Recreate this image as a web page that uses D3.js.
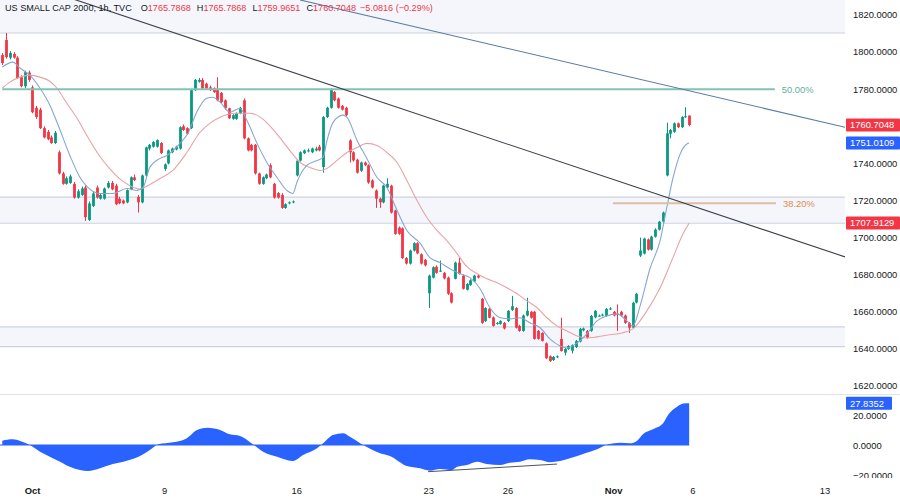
<!DOCTYPE html>
<html><head><meta charset="utf-8">
<script src="https://cdn.jsdelivr.net/npm/d3@7"></script>
<style>
html,body{margin:0;padding:0;background:#fff;}
svg{display:block;font-family:"Liberation Sans",Arial,sans-serif;}
</style></head>
<body>
<svg id="c" width="900" height="498"></svg>
<script>
// ---------- DATA ----------
const title = "US SMALL CAP 2000, 1h, TVC";
const ohlcHeader = {o:"1765.7868", h:"1765.7868", l:"1759.9651", c:"1760.7048", chg:"\u22125.0816 (\u22120.29%)"};
// hourly bars, index 0 = last bar of Sep 28, 7 bars per trading day
const opens = [1798.4,1806.5,1797,1799,1797,1786.5,1781.6,1789,1781,1770,1769,1759,1757,1754,1751,1746,1734.6,1729,1729.5,1729,1721.6,1723,1727,1709.5,1717,1727,1721,1721,1727,1729.5,1728,1721,1720,1719,1726,1732.5,1722,1719,1733.5,1748,1749,1749,1751,1737,1740,1746,1747.5,1748,1760,1759,1759,1779.5,1784,1785,1783,1781,1780.5,1779.5,1778,1774,1769.7,1764,1764,1767,1774,1753.5,1750,1750,1734.6,1729,1732,1739,1729,1724,1723,1716,1718.5,1719,1733.5,1741.5,1745.5,1747,1746,1747,1749,1738,1765,1770,1778.5,1775,1771,1770,1752.4,1746,1742,1736,1740.5,1739,1730.8,1725.4,1721,1719,1727,1728,1714.6,1705.4,1705,1689,1686,1693,1697,1691,1688,1670,1678.4,1684.3,1682,1681,1678.4,1670,1677.8,1686.5,1679.5,1671.9,1674.4,1676.4,1679.5,1667,1655,1661.6,1657,1653.5,1653.5,1654,1655,1661,1662,1652.4,1649.7,1658,1660,1660,1649.7,1648.6,1643,1636,1634,1635.5,1645.4,1638,1640,1639,1641,1644,1650,1649.7,1649.7,1657,1658,1658,1657.8,1661.6,1660,1659,1660,1658,1654,1651.4,1665,1690.3,1691.4,1699,1693.5,1700.5,1704.3,1708.6,1733.5,1756,1757,1761.6,1759.5,1765,1765.7868];
const highs = [1799.5,1810.3,1800.5,1800,1797.8,1787.5,1790,1790,1782,1771,1770,1760,1758,1755,1757.5,1747,1735.5,1733,1734,1730,1726,1727.5,1728,1719.5,1724.5,1728,1723.5,1727,1730.5,1730.5,1729,1722,1720.5,1726,1733,1734,1723,1734,1749,1750.5,1752,1753,1751.5,1740,1747.5,1748.5,1749.5,1760,1761,1759.5,1780,1785.5,1786,1786,1783.5,1782,1781,1786.5,1778.5,1774.5,1770,1766.5,1767.5,1770.5,1775,1754,1750.5,1750.5,1735,1733,1734.5,1740,1729.5,1724.5,1724,1718.5,1719.5,1720,1742,1746.5,1747.5,1748,1748.5,1749,1750,1765.5,1770.5,1780.5,1779,1775.5,1771.5,1770.5,1753,1746.5,1742.5,1741,1741,1739.5,1731.5,1726,1721.5,1728.5,1732,1728.5,1715,1706,1705.5,1689.5,1693.5,1697.5,1697.5,1691.5,1688.5,1680,1684.5,1685,1687.6,1681.5,1679,1670.5,1687,1689,1680,1675.5,1677.5,1680,1680,1667.5,1662.5,1662,1657.5,1654.5,1655.5,1654.5,1661,1668.6,1662.5,1653,1658.5,1667.6,1660.5,1660.5,1650.2,1649,1643.5,1636.5,1636.2,1636.5,1656.8,1640.5,1642,1642.5,1644.8,1651.3,1651.5,1650.2,1658.3,1661,1658.5,1659,1662.1,1662.5,1660.5,1664,1660.5,1658.5,1654.5,1665.4,1670.2,1700,1700,1699.5,1701,1705,1709,1714,1762,1758.5,1762.1,1762,1765.5,1770.3,1765.7868];
const lows = [1793,1796.5,1796,1796.5,1785.5,1781,1780.5,1784,1767,1764,1758.5,1753.5,1752.5,1750.5,1750.5,1734,1728.5,1728.5,1729,1721,1721,1722.5,1709,1709,1716.5,1721,1720.5,1720.5,1726.5,1725.5,1717.5,1718,1718,1718.5,1725.5,1730.5,1713.5,1718.5,1733,1747,1748.5,1748.5,1745,1736,1739.5,1745.5,1747,1747.5,1757.5,1755.5,1758.5,1779,1783.5,1780,1780,1779,1778,1773.5,1772.5,1769,1764,1763.5,1763.5,1766.5,1753,1746.5,1746.5,1734,1728.5,1728.5,1731.5,1732,1721,1721,1715.5,1715.5,1718,1718.5,1733,1741,1745,1746,1745.5,1746.5,1746.5,1735,1764.5,1769.5,1773.5,1769.5,1768.5,1765.5,1740.5,1741,1734.5,1735.5,1738.5,1729,1726.5,1716,1716,1718.5,1726.5,1713,1701.5,1701.5,1688.5,1685.5,1685.5,1692.5,1691,1685.5,1684.5,1662,1678,1680.5,1681.5,1677.5,1669,1664.5,1677.5,1680,1672,1671.5,1674,1676,1678,1653.5,1654.5,1656.5,1652,1653,1653,1650.5,1654.5,1660.5,1651,1649.2,1649.2,1657.5,1656.3,1645,1645,1644,1634.5,1633,1633.5,1635,1638.5,1636.5,1639.5,1637.5,1640.5,1643.5,1649.5,1645.5,1649.2,1656.5,1657.5,1657.5,1657.3,1661,1657.5,1649.7,1657.5,1653.5,1648.6,1650.9,1664.5,1689.5,1690.9,1693,1693,1700,1703.8,1708.1,1733,1753.5,1756.5,1759,1759,1764.5,1759.9651];
const closes = [1794.1,1797.3,1799.5,1797,1786,1781.6,1789.2,1785,1767.6,1765,1759,1754,1753,1751,1756.5,1734.6,1729,1732,1733,1721.6,1725,1726.5,1711,1718.4,1723.8,1721.6,1723,1726.5,1729.5,1726,1718,1718.5,1718.5,1725.6,1732.5,1731,1719,1733.5,1748.6,1750,1751.5,1752.5,1745.6,1739.5,1747,1748,1749,1759.5,1758,1756,1779.5,1785,1785,1780.5,1780.5,1779.5,1778.4,1774,1773,1769.7,1764.3,1766,1767,1770,1753.5,1747,1747,1734.6,1729,1732.5,1734,1732.5,1721.6,1721.6,1716,1718,1719,1719.5,1741.5,1746,1747,1747,1748,1748,1747,1765,1770,1779.5,1774,1770,1769,1766,1746,1741.6,1735,1740.5,1739,1729.7,1727,1721,1719,1728,1729,1713.5,1702,1702,1689,1686,1693,1697,1691.5,1686,1685,1679.5,1684,1681,1682.2,1678,1669.7,1665,1686.5,1680.5,1672.4,1675,1677,1679.5,1678.5,1654,1662,1656.8,1652.4,1654,1655,1651,1660.5,1663,1651.4,1649.7,1658,1660.5,1656.8,1645.4,1645.4,1644.3,1635,1633.5,1635.7,1636,1638.9,1640,1641.6,1642,1644.3,1650.8,1651,1646,1657.8,1660.5,1658,1658.5,1661.6,1661.8,1658,1658.5,1658,1654,1651.4,1664.9,1669.7,1693,1699.5,1693.5,1700.5,1704.3,1708.6,1713.5,1756.2,1758,1761.6,1759.5,1765,1765.4,1760.7048];
// moving averages: [bar index, price]
const fastMA = [[0,1792],[2.8,1794.6],[4.7,1791.4],[7.3,1787.6],[10,1780.5],[12.6,1771.4],[14.5,1762.2],[17.9,1744.3],[20.6,1732.4],[22.4,1727.6],[25.9,1723.8],[29.3,1723.8],[33,1726.5],[35.7,1725.4],[37.3,1727],[39.1,1738],[41.8,1742.7],[43.6,1744.3],[47.1,1750.8],[49.2,1756.2],[51.6,1768],[54.2,1775.1],[55.8,1775.7],[57.7,1773],[60.3,1767.6],[63,1769.7],[64.8,1763.2],[67.5,1750.8],[70.1,1740.5],[72.8,1732.4],[75.4,1725.4],[77,1723.8],[78.1,1730],[80.7,1738.9],[83.4,1741.6],[85,1743.2],[86,1752],[87.6,1762],[90.3,1766],[91.3,1764.9],[94,1752.4],[96.6,1742.7],[99.3,1732.4],[101.9,1727],[104.6,1714.6],[107.2,1703.8],[110.7,1697],[113.3,1689.2],[116,1686.5],[118.6,1683.2],[121.3,1680.5],[123.9,1678.4],[126.6,1672.4],[129.2,1662.2],[131.9,1656.8],[134.5,1656.2],[137.2,1656.8],[139.8,1654.1],[142.5,1651.4],[145.1,1645.4],[147.8,1641.6],[149.6,1640.5],[152.3,1643.2],[154.9,1648.1],[157.6,1655.1],[160.2,1657.8],[162.9,1658.9],[165.5,1655.1],[167.1,1652.4],[169,1663.2],[171.6,1683.2],[174.3,1698.4],[176.1,1716.5],[177.7,1732],[179.6,1745],[181.7,1750.8],[182,1751.0109]];
const slowMA = [[0,1780.5],[2,1783.8],[4.7,1786.5],[7.3,1787.6],[10,1786.5],[12.6,1784.3],[14.5,1780.5],[17.1,1772.4],[19.8,1764.3],[22.4,1755],[25.1,1746],[28.5,1737],[31.2,1731.5],[33.8,1728],[36.5,1726.2],[39.1,1728.6],[41.8,1731.9],[45.2,1736.2],[48.9,1745.9],[52.4,1756.8],[55,1761.6],[57.7,1764.9],[61.7,1767],[65.6,1767],[68.8,1764.3],[71.5,1758.9],[74.1,1752.4],[76.8,1745.4],[78.9,1740.5],[81.5,1737.8],[84.2,1736.2],[86,1737.3],[88.7,1741.6],[91.3,1745.9],[94,1748.6],[96.6,1750.8],[99.3,1749.7],[101.9,1745.9],[104.6,1740.5],[107.2,1730.8],[109.9,1720],[112.5,1710.8],[115.2,1703.8],[117.8,1698.4],[120.5,1691.4],[123.1,1684.3],[125.8,1680.5],[128.4,1677.8],[131.1,1675.7],[133.7,1673],[136.4,1669.7],[139,1665.9],[141.7,1662.2],[144.3,1656.8],[147,1652.4],[149.6,1649.7],[152.3,1647],[154.9,1645.9],[157.6,1646.5],[161,1647.6],[164.2,1648.6],[167.1,1650.8],[170.8,1660.5],[174.3,1673],[177.7,1689.2],[180.4,1702.2],[182,1707.9129]];
// oscillator: [bar index, value]
const osc = [[0,2.9],[2.8,3.8],[4.7,2.7],[7.3,0],[10,-4.5],[12.6,-7.8],[15.3,-11.1],[17.9,-14.5],[20.6,-16.7],[22.7,-17.3],[25.9,-15.5],[29.3,-12.7],[33,-10.5],[36.5,-7.3],[39.1,-3.3],[41.3,0.5],[45.2,1.8],[48.9,4.5],[51.6,10],[54.5,11.5],[57.7,10],[60.3,7.1],[63,6],[66.4,0.5],[69.1,-4.5],[72.8,-7.8],[75.4,-10],[77,-10.7],[79.7,-6.7],[83.4,-2.2],[85,1.1],[87.6,6.7],[90.3,7.8],[92.1,5.5],[95.6,0],[100.1,-5.5],[102.7,-7.3],[107.2,-14],[110.7,-15.5],[113.3,-17.1],[116,-16],[119.2,-16.7],[120.5,-14.5],[123.1,-13.3],[125.8,-11.1],[128.4,-12.7],[131.9,-13.3],[134.5,-11.8],[137.2,-11.1],[139.8,-9.5],[142.5,-10],[145.1,-11.5],[147.8,-10.7],[150.4,-8.9],[153.9,-6],[157.6,-2.9],[160.5,0.5],[163.7,1.5],[166.3,1.1],[168.2,2.9],[169.8,7.3],[172.4,10.5],[175.1,14.5],[176.4,20],[178.8,25.5],[180.4,27.6],[182,27.8352]];
const oscDivergence = [[112.8,-17.8],[147,-12.7]];
// drawings
const blackTrend = [[16,1830.5],[223.3,1689.6]];
const blueTrend = [[78.9,1828.1],[223.3,1759.5]];
const zones = [[1810.3,1850],[1707.7,1721.8],[1641.2,1651.9]];
const fibLevels = [{label:"50.00%", price:1780, from:0, to:204.7, color:"#82c3b3", text:"#5fb09d"},
                   {label:"38.20%", price:1718.5, from:161.8, to:205, color:"#dcbfa2", text:"#e08a44"}];
// axes
const priceTicks = [1620,1640,1660,1680,1700,1720,1740,1760,1780,1800,1820];
const oscTicks = [20,0,-20];
const timeTickIdx = [8,43,78,113,134,162,183,218];
const timeTickLabels = ["Oct","9","16","23","26","Nov","6","13"];
const lastPrice = 1760.7048, fastLast = 1751.0109, slowLast = 1707.9129, oscLast = 27.8352;

// ---------- DRAW ----------
const svg = d3.select("#c");
const W = 900, plotR = 845;
const x = d3.scaleLinear().domain([0,218]).range([2.3, 2.3+218*3.774]);
const y = d3.scaleLinear().domain([1620,1820]).range([386,15]);
const yo = d3.scaleLinear().domain([-20,20]).range([475,415]);
const UP="#089981", DN="#f23645", FS="9.4px";
const fmt = d3.format(".4f");
const minus = s => s.replace("-","\u2212");

const defs = svg.append("defs");
defs.append("clipPath").attr("id","mainClip").append("rect").attr("x",0).attr("y",0).attr("width",plotR).attr("height",394);
defs.append("clipPath").attr("id","oscClip").append("rect").attr("x",0).attr("y",395).attr("width",plotR).attr("height",86);
defs.append("clipPath").attr("id","oaxClip").append("rect").attr("x",845).attr("y",395).attr("width",55).attr("height",83);

const main = svg.append("g").attr("clip-path","url(#mainClip)");

// zones
zones.forEach(z=>{
  const y1=y(z[1]), y0=y(z[0]);
  main.append("rect").attr("x",0).attr("width",plotR).attr("y",y1).attr("height",y0-y1).attr("fill","#f4f6fc");
  [y0,y1].forEach(v=>main.append("line").attr("x1",0).attr("x2",plotR).attr("y1",v).attr("y2",v).attr("stroke","#ccd3e0").attr("stroke-width",1.1));
});

// candles
const idx = d3.range(opens.length);
const cg = main.append("g");
cg.selectAll("line.w").data(idx).join("line")
  .attr("x1",i=>Math.round(x(i))+0.5).attr("x2",i=>Math.round(x(i))+0.5)
  .attr("y1",i=>y(highs[i])).attr("y2",i=>y(lows[i]))
  .attr("stroke",i=>closes[i]>=opens[i]?UP:DN).attr("stroke-width",1);
cg.selectAll("rect.b").data(idx).join("rect")
  .attr("x",i=>Math.round(x(i))+0.5-1.4).attr("width",2.8)
  .attr("y",i=>y(Math.max(opens[i],closes[i])))
  .attr("height",i=>Math.max(1,Math.abs(y(opens[i])-y(closes[i]))))
  .attr("fill",i=>closes[i]>=opens[i]?UP:DN);

// MAs
const ln = d3.line().x(d=>x(d[0])).y(d=>y(d[1])).curve(d3.curveMonotoneX);
main.append("path").attr("d",ln(slowMA)).attr("fill","none").attr("stroke","#e8a3a6").attr("stroke-width",1.1);
main.append("path").attr("d",ln(fastMA)).attr("fill","none").attr("stroke","#86a6d2").attr("stroke-width",1.1);

// fib levels
fibLevels.forEach(f=>{
  main.append("line").attr("x1",x(f.from)).attr("x2",x(f.to)).attr("y1",y(f.price)).attr("y2",y(f.price))
    .attr("stroke",f.color).attr("stroke-width",2);
  main.append("text").attr("x",x(f.to)+7).attr("y",y(f.price)+3.3).attr("fill",f.text)
    .attr("font-size",FS).text(f.label);
});

// trend lines
const tl = d3.line().x(d=>x(d[0])).y(d=>y(d[1]));
main.append("path").attr("d",tl(blackTrend)).attr("stroke","#3d414c").attr("stroke-width",1.1).attr("fill","none");
main.append("path").attr("d",tl(blueTrend)).attr("stroke","#5b7ba3").attr("stroke-width",1.1).attr("fill","none");

// oscillator panel
const og = svg.append("g").attr("clip-path","url(#oscClip)");
const area = d3.area().x(d=>x(d[0])).y0(yo(0)).y1(d=>yo(d[1])).curve(d3.curveMonotoneX);
og.append("path").attr("d",area(osc)).attr("fill","#2962ff");
og.append("line").attr("x1",x(0)-3).attr("x2",x(182)).attr("y1",yo(0)).attr("y2",yo(0)).attr("stroke","#2962ff").attr("stroke-width",1.2);
og.append("path").attr("d",d3.line().x(d=>x(d[0])).y(d=>yo(d[1]))(oscDivergence)).attr("stroke","#50535e").attr("stroke-width",1).attr("fill","none");

// separators
svg.append("line").attr("x1",0).attr("x2",W).attr("y1",394.5).attr("y2",394.5).attr("stroke","#e0e3eb");

// tags (price labels) on the scale
const tags = [{v:lastPrice, yy:y(lastPrice), c:DN, w:54},
              {v:fastLast, yy:y(fastLast), c:"#2962ff", w:54},
              {v:slowLast, yy:y(slowLast), c:DN, w:54}];
const oscTag = {v:oscLast, yy:yo(oscLast), c:"#2962ff", w:46};

// price axis (labels hidden where a tag covers them)
const ax = svg.append("g").attr("font-size",FS).attr("fill","#131722");
priceTicks.filter(v=>tags.every(t=>Math.abs(t.yy-y(v))>9))
  .forEach(v=>ax.append("text").attr("x",853).attr("y",y(v)+3.3).text(fmt(v)));
const oax = svg.append("g").attr("font-size",FS).attr("fill","#131722").attr("clip-path","url(#oaxClip)");
oscTicks.forEach(v=>oax.append("text").attr("x",853).attr("y",yo(v)+3.6).text(minus(fmt(v))));

function tag(t){
  svg.append("rect").attr("x",846).attr("y",t.yy-6.5).attr("width",t.w).attr("height",13).attr("fill",t.c).attr("rx",1);
  svg.append("text").attr("x",850).attr("y",t.yy+3.3).attr("fill","#fff").attr("font-size",FS).text(fmt(t.v));
}
tags.forEach(tag);
tag(oscTag);

// time axis
timeTickIdx.forEach((t,k)=>{
  const bold = isNaN(+timeTickLabels[k]);
  svg.append("text").attr("x",x(t)).attr("y",494).attr("text-anchor","middle")
    .attr("font-size",FS).attr("font-weight",bold?"bold":"normal").attr("fill","#131722").text(timeTickLabels[k]);
});

// header
const hd = svg.append("text").attr("x",5).attr("y",11).attr("font-size","9.1px");
hd.append("tspan").attr("fill","#131722").text(title);
[["O",ohlcHeader.o],["H",ohlcHeader.h],["L",ohlcHeader.l],["C",ohlcHeader.c]].forEach((p,k)=>{
  hd.append("tspan").attr("dx",k===0?9:6).attr("fill","#131722").text(p[0]);
  hd.append("tspan").attr("fill",DN).text(p[1]);
});
hd.append("tspan").attr("dx",4).attr("fill",DN).text(ohlcHeader.chg);
</script>
</body></html>
